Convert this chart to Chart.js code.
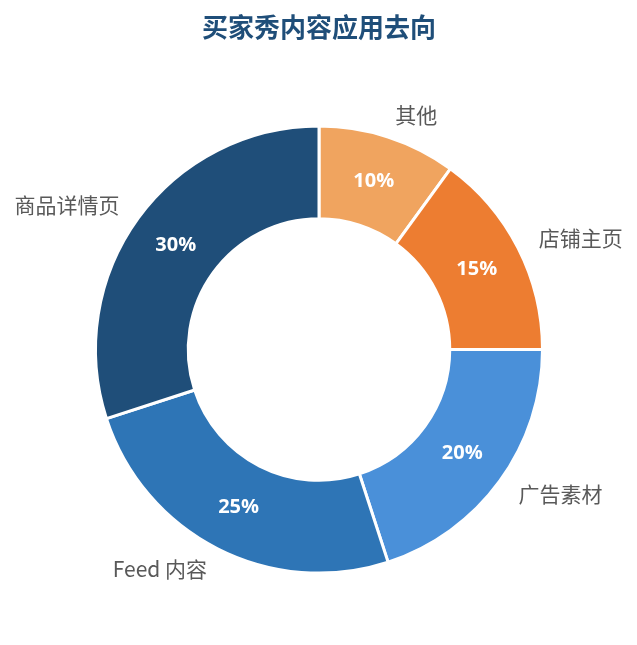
<!DOCTYPE html>
<html>
<head>
<meta charset="utf-8">
<script src="https://cdn.jsdelivr.net/npm/chart.js@4"></script>
<style>
  html, body { margin: 0; padding: 0; background: #fff; }
  #wrap { width: 637px; height: 645px; }
</style>
</head>
<body>
<div id="wrap"><canvas id="chart"></canvas></div>
<script>
// Slices go clockwise from 12 o'clock
const categories = ["其他", "店铺主页", "广告素材", "Feed 内容", "商品详情页"]
const shares = [10, 15, 20, 25, 30]
const sliceColors = ["#f0a45f", "#ed7d31", "#4a90d9", "#2e75b6", "#1f4e79"]

const FONT = "'Noto Sans CJK SC', 'Open Sans', sans-serif"

// percent inside each ring segment, category name outside it
const sliceLabels = {
  id: "sliceLabels",
  afterDatasetsDraw(chart) {
    const ctx = chart.ctx
    const meta = chart.getDatasetMeta(0)
    ctx.save()
    meta.data.forEach((arc, i) => {
      const p = arc.getProps(["x", "y", "startAngle", "endAngle", "innerRadius", "outerRadius"], true)
      const mid = (p.startAngle + p.endAngle) / 2
      const cos = Math.cos(mid), sin = Math.sin(mid)

      const rIn = (p.innerRadius + p.outerRadius) / 2
      ctx.font = "bold 20px 'Open Sans', sans-serif"
      ctx.fillStyle = "#ffffff"
      ctx.textAlign = "center"
      ctx.textBaseline = "middle"
      ctx.fillText(shares[i] + "%", p.x + cos * rIn, p.y + sin * rIn)

      const rOut = p.outerRadius + 23
      ctx.font = "21px " + FONT
      ctx.fillStyle = "#595959"
      ctx.textAlign = cos >= 0 ? "left" : "right"
      ctx.fillText(categories[i], p.x + cos * rOut, p.y + sin * rOut)
    })
    ctx.restore()
  }
}

new Chart(document.getElementById("chart"), {
  type: "doughnut",
  data: {
    labels: categories,
    datasets: [{
      data: shares,
      backgroundColor: sliceColors,
      borderColor: "#ffffff",
      borderWidth: 3
    }]
  },
  options: {
    responsive: true,
    maintainAspectRatio: false,
    animation: false,
    cutout: "58.5%",
    layout: { padding: { top: 0, bottom: 70, left: 94, right: 93 } },
    plugins: {
      legend: { display: false },
      tooltip: { enabled: false },
      title: {
        display: true,
        text: "买家秀内容应用去向",
        color: "#1f4e79",
        font: { family: FONT, size: 26, weight: "bold" },
        padding: { top: 12, bottom: 81 }
      }
    }
  },
  plugins: [sliceLabels]
})
</script>
</body>
</html>
